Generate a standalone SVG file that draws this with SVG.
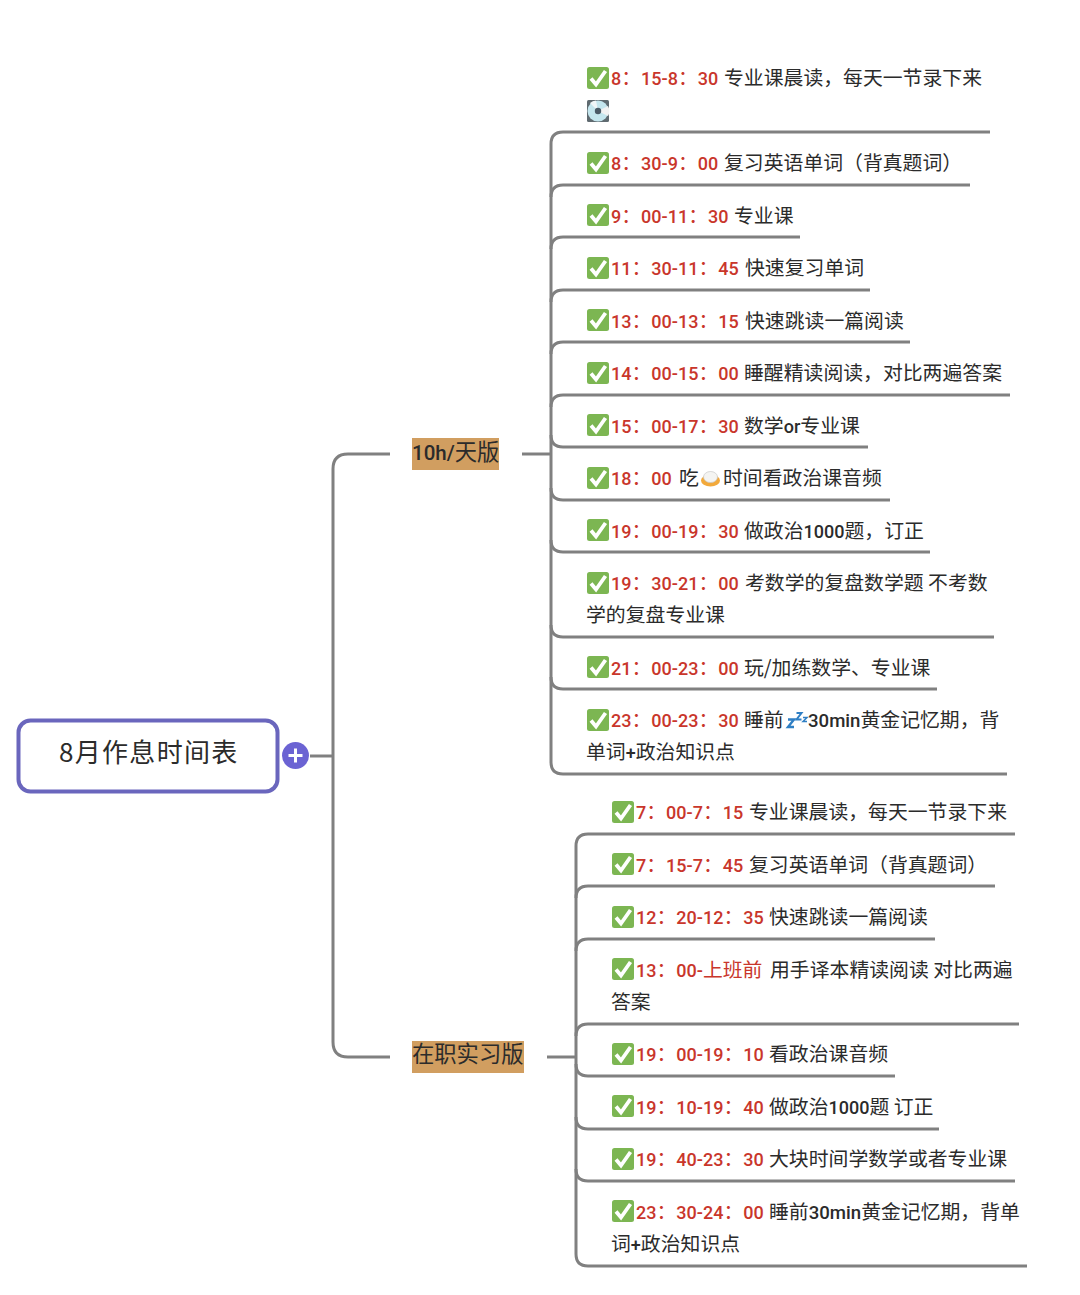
<svg xmlns="http://www.w3.org/2000/svg" width="1080" height="1295" viewBox="0 0 1080 1295">
<style>
text{font-family:"Noto Sans CJK SC","Noto Sans",sans-serif;font-size:19.85px;fill:#2b2b2b}
.r{fill:#c9362b;font-family:Roboto,"Noto Sans CJK SC",sans-serif;font-size:18px;font-weight:500}
.c{font-family:"Noto Sans CJK SC",sans-serif;font-size:19.85px;font-weight:400}
.n{font-family:Roboto,sans-serif;font-size:18px;font-weight:500}
.m{font-family:Roboto,sans-serif;font-size:18.6px;font-weight:500}
.lbl{font-size:22.3px}
.lk{fill:none;stroke:#808080;stroke-width:3}
</style>
<defs>
<g id="chk"><rect x="0" y="0" width="22" height="22" rx="2.500" fill="#7cb652"/><path d="M4 11.500L9 17.500L18.500 4" fill="none" stroke="#fff" stroke-width="3.800"/></g>
</defs>
<rect width="1080" height="1295" fill="#fff"/>
<g id="connectors" class="lk">
<path d="M310 756H333"/>
<path d="M390 454H348Q333 454 333 469V1042Q333 1057 348 1057H390"/>
<path d="M522 454H551"/>
<path d="M990 132H563Q551 132 551 144V762Q551 774 563 774H1007"/>
<path d="M970 185H563Q551 185 551 197"/>
<path d="M800 237H563Q551 237 551 249"/>
<path d="M870 290H563Q551 290 551 302"/>
<path d="M910 342H563Q551 342 551 354"/>
<path d="M1010 395H563Q551 395 551 407"/>
<path d="M868 447H563Q551 447 551 435"/>
<path d="M890 500H563Q551 500 551 488"/>
<path d="M930 552H563Q551 552 551 540"/>
<path d="M994 637H563Q551 637 551 625"/>
<path d="M937 689H563Q551 689 551 677"/>
<path d="M547 1057H576"/>
<path d="M1015 834H588Q576 834 576 846V1254Q576 1266 588 1266H1027"/>
<path d="M995 886H588Q576 886 576 898"/>
<path d="M935 939H588Q576 939 576 951"/>
<path d="M1019 1024H588Q576 1024 576 1036"/>
<path d="M895 1076H588Q576 1076 576 1064"/>
<path d="M939 1129H588Q576 1129 576 1117"/>
<path d="M1015 1181H588Q576 1181 576 1169"/>
</g>
<g id="root">
<rect x="18.500" y="720.500" width="259" height="71" rx="12" fill="#fff" stroke="#6a66bd" stroke-width="4"/>
<text x="59" y="762" style="font-size:26px;letter-spacing:1.300px">8月作息时间表</text>
<circle cx="295.500" cy="755.500" r="13.500" fill="#6b63d3"/>
<path d="M295.500 748.500V762.500M288.500 755.500H302.500" stroke="#fff" stroke-width="3"/>
</g>
<g id="branch-10h">
<rect x="412" y="438" width="87" height="32" fill="#d19e60"/>
<text class="lbl" x="412" y="460"><tspan class="n" style="font-size:20.500px">10h/</tspan>天版</text>
</g>
<g id="branch-job">
<rect x="412" y="1041" width="112" height="32" fill="#d19e60"/>
<text class="lbl" x="412" y="1062">在职实习版</text>
</g>
<g id="n1"><use href="#chk" x="587" y="67"/><text x="611" y="85"><tspan class="r">8<tspan class="c">：</tspan>15-8<tspan class="c">：</tspan>30</tspan></text><text x="724" y="85">专业课晨读，每天一节录下来</text>
<g id="disc"><rect x="587" y="100" width="22" height="22" rx="1.500" fill="#5f6a70"/><circle cx="598" cy="111" r="10.500" fill="#c4e6ee"/><path d="M598 111L608 106A10.500 10.500 0 0 1 608 116Z" fill="#f2f2f2"/><path d="M598 111L590 103A10.500 10.500 0 0 1 596 100.500Z" fill="#f0f6f8"/><circle cx="598" cy="111" r="3.200" fill="#4a5a66"/></g></g>
<g id="n2"><use href="#chk" x="587" y="152"/><text x="611" y="170"><tspan class="r">8<tspan class="c">：</tspan>30-9<tspan class="c">：</tspan>00</tspan></text><text x="724" y="170">复习英语单词（背真题词）</text></g>
<g id="n3"><use href="#chk" x="587" y="204"/><text x="611" y="223"><tspan class="r">9<tspan class="c">：</tspan>00-11<tspan class="c">：</tspan>30</tspan></text><text x="734" y="223">专业课</text></g>
<g id="n4"><use href="#chk" x="587" y="257"/><text x="611" y="275"><tspan class="r">11<tspan class="c">：</tspan>30-11<tspan class="c">：</tspan>45</tspan></text><text x="745" y="275">快速复习单词</text></g>
<g id="n5"><use href="#chk" x="587" y="309"/><text x="611" y="328"><tspan class="r">13<tspan class="c">：</tspan>00-13<tspan class="c">：</tspan>15</tspan></text><text x="745" y="328">快速跳读一篇阅读</text></g>
<g id="n6"><use href="#chk" x="587" y="362"/><text x="611" y="380"><tspan class="r">14<tspan class="c">：</tspan>00-15<tspan class="c">：</tspan>00</tspan></text><text x="744" y="380">睡醒精读阅读，对比两遍答案</text></g>
<g id="n7"><use href="#chk" x="587" y="414"/><text x="611" y="433"><tspan class="r">15<tspan class="c">：</tspan>00-17<tspan class="c">：</tspan>30</tspan></text><text x="744" y="433">数学<tspan class="n">or</tspan>专业课</text></g>
<g id="n8"><use href="#chk" x="587" y="467"/><text x="611" y="485"><tspan class="r">18<tspan class="c">：</tspan>00</tspan></text><text x="679" y="485">吃</text>
<g id="bread"><ellipse cx="710.500" cy="480.500" rx="9.500" ry="6" fill="#f2a93b"/><ellipse cx="710.500" cy="477" rx="7" ry="5.500" fill="#f4f4f2" stroke="#c9c9c9" stroke-width=".7"/></g>
<text x="723" y="485">时间看政治课音频</text></g>
<g id="n9"><use href="#chk" x="587" y="519"/><text x="611" y="538"><tspan class="r">19<tspan class="c">：</tspan>00-19<tspan class="c">：</tspan>30</tspan></text><text x="744" y="538">做政治<tspan class="n">1000</tspan>题，订正</text></g>
<g id="n10"><use href="#chk" x="587" y="572"/><text x="611" y="590"><tspan class="r">19<tspan class="c">：</tspan>30-21<tspan class="c">：</tspan>00</tspan></text><text x="745" y="590">考数学的复盘数学题 不考数</text><text x="586" y="622">学的复盘专业课</text></g>
<g id="n11"><use href="#chk" x="587" y="656"/><text x="611" y="675"><tspan class="r">21<tspan class="c">：</tspan>00-23<tspan class="c">：</tspan>00</tspan></text><text x="744" y="675">玩/加练数学、专业课</text></g>
<g id="n12"><use href="#chk" x="587" y="709"/><text x="611" y="727"><tspan class="r">23<tspan class="c">：</tspan>00-23<tspan class="c">：</tspan>30</tspan></text><text x="744" y="727">睡前</text>
<g id="zzz" fill="none" stroke="#2f7fc4" stroke-width="2"><path d="M788 719.500H794L788 727H794" stroke-width="2.400"/><path d="M796.500 713H801.500L796.500 719.500H801.500"/><path d="M803 717.500H807L803 721.500H807" stroke-width="1.500"/></g>
<text x="808" y="727"><tspan class="m">30min</tspan>黄金记忆期，背</text><text x="586" y="759">单词<tspan class="n">+</tspan>政治知识点</text></g>
<g id="m1"><use href="#chk" x="612" y="801"/><text x="636" y="819"><tspan class="r">7<tspan class="c">：</tspan>00-7<tspan class="c">：</tspan>15</tspan></text><text x="749" y="819">专业课晨读，每天一节录下来</text></g>
<g id="m2"><use href="#chk" x="612" y="853"/><text x="636" y="872"><tspan class="r">7<tspan class="c">：</tspan>15-7<tspan class="c">：</tspan>45</tspan></text><text x="749" y="872">复习英语单词（背真题词）</text></g>
<g id="m3"><use href="#chk" x="612" y="906"/><text x="636" y="924"><tspan class="r">12<tspan class="c">：</tspan>20-12<tspan class="c">：</tspan>35</tspan></text><text x="769" y="924">快速跳读一篇阅读</text></g>
<g id="m4"><use href="#chk" x="612" y="958"/><text x="636" y="977"><tspan class="r">13<tspan class="c">：</tspan>00-<tspan class="c">上班前</tspan></tspan></text><text x="770" y="977">用手译本精读阅读 对比两遍</text><text x="611" y="1009">答案</text></g>
<g id="m5"><use href="#chk" x="612" y="1043"/><text x="636" y="1061"><tspan class="r">19<tspan class="c">：</tspan>00-19<tspan class="c">：</tspan>10</tspan></text><text x="769" y="1061">看政治课音频</text></g>
<g id="m6"><use href="#chk" x="612" y="1095"/><text x="636" y="1114"><tspan class="r">19<tspan class="c">：</tspan>10-19<tspan class="c">：</tspan>40</tspan></text><text x="769" y="1114">做政治<tspan class="n">1000</tspan>题 订正</text></g>
<g id="m7"><use href="#chk" x="612" y="1148"/><text x="636" y="1166"><tspan class="r">19<tspan class="c">：</tspan>40-23<tspan class="c">：</tspan>30</tspan></text><text x="769" y="1166">大块时间学数学或者专业课</text></g>
<g id="m8"><use href="#chk" x="612" y="1200"/><text x="636" y="1219"><tspan class="r">23<tspan class="c">：</tspan>30-24<tspan class="c">：</tspan>00</tspan></text><text x="769" y="1219">睡前<tspan class="m">30min</tspan>黄金记忆期，背单</text><text x="611" y="1251">词<tspan class="n">+</tspan>政治知识点</text></g>
</svg>
